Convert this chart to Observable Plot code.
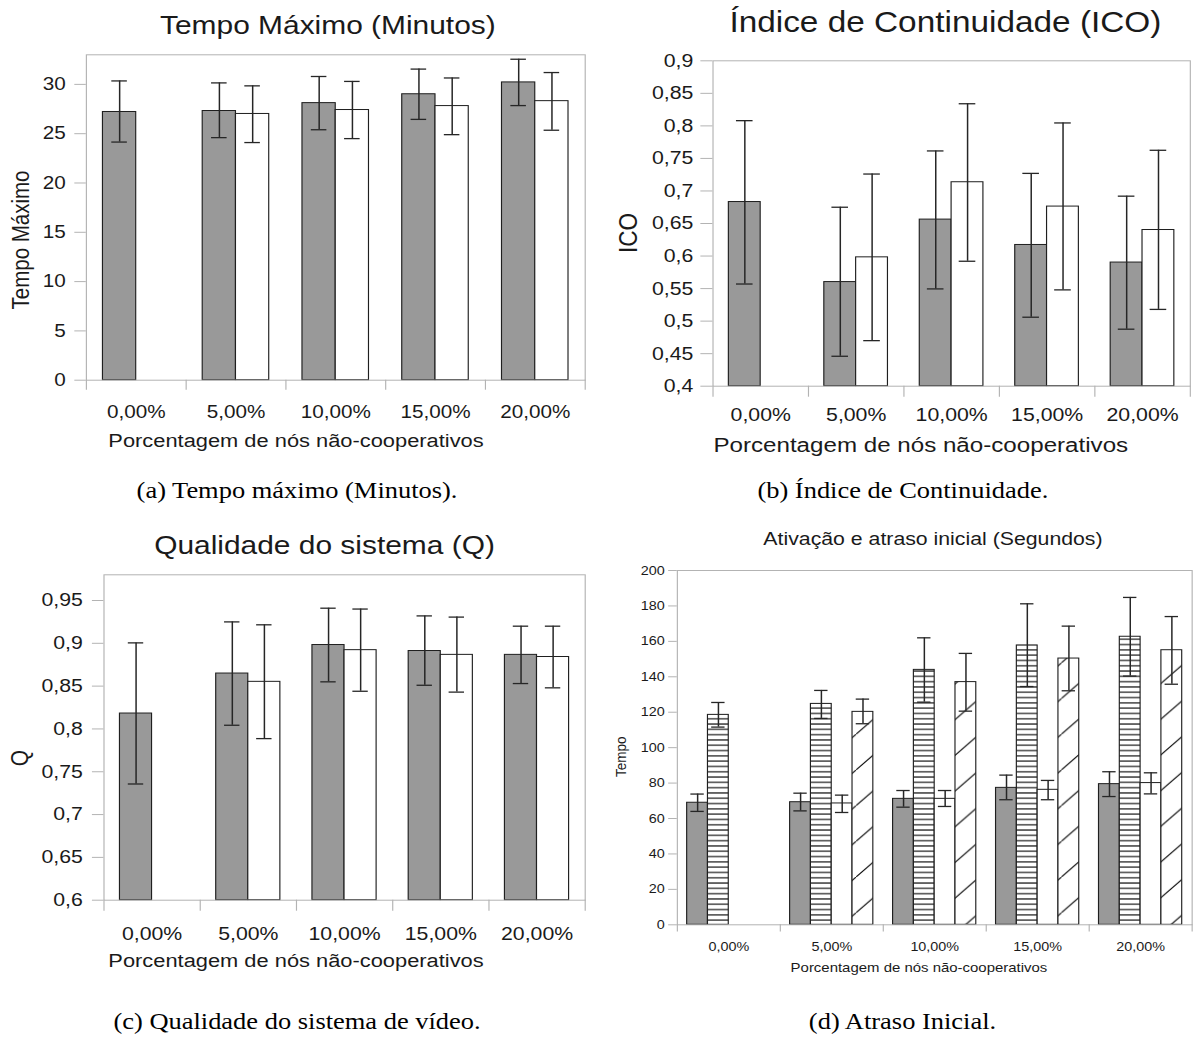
<!DOCTYPE html>
<html><head><meta charset="utf-8">
<script src="https://cdn.jsdelivr.net/npm/d3@7"></script>
<script src="https://cdn.jsdelivr.net/npm/@observablehq/plot@0.6"></script>
<style>
html,body{margin:0;padding:0;background:#fff;}
#page{position:relative;width:1037px;height:1037px;transform:scaleX(1.1504);transform-origin:0 0;}
.chart{position:absolute;}
.chart svg{overflow:visible;max-width:none !important;}
</style></head><body>
<svg width="0" height="0" style="position:absolute">
 <defs>
  <pattern id="hstripe" patternUnits="userSpaceOnUse" width="8" height="5.3">
    <rect width="8" height="5.3" fill="#fff"/>
    <line x1="0" x2="8" y1="2.65" y2="2.65" stroke="#000" stroke-width="1.1"/>
  </pattern>
  <pattern id="diag" patternUnits="userSpaceOnUse" width="35.7" height="35.7">
    <rect width="35.7" height="35.7" fill="#fff"/>
    <line x1="-1" y1="36.7" x2="36.7" y2="-1" stroke="#000" stroke-width="1"/>
  </pattern>
 </defs>
</svg>
<div id="page"></div>
<script>
// ---------- data ----------
const categories = ["0,00%", "5,00%", "10,00%", "15,00%", "20,00%"];

// (a) Tempo Máximo (Minutos)
const tempoTicks = [0, 5, 10, 15, 20, 25, 30];
const tempoMean1 = [27.2, 27.3, 28.1, 29.0, 30.2];
const tempoLo1   = [24.15, 24.6, 25.4, 26.45, 27.85];
const tempoHi1   = [30.35, 30.15, 30.8, 31.55, 32.55];
const tempoMean2 = [null, 27.0, 27.4, 27.8, 28.3];
const tempoLo2   = [null, 24.1, 24.5, 24.9, 25.35];
const tempoHi2   = [null, 29.85, 30.3, 30.65, 31.2];

// (b) Índice de Continuidade (ICO)
const icoTicks = [0.4, 0.45, 0.5, 0.55, 0.6, 0.65, 0.7, 0.75, 0.8, 0.85, 0.9];
const icoMean1 = [0.683, 0.560, 0.656, 0.617, 0.590];
const icoLo1   = [0.557, 0.446, 0.5495, 0.506, 0.4876];
const icoHi1   = [0.808, 0.675, 0.7615, 0.727, 0.692];
const icoMean2 = [null, 0.598, 0.7134, 0.676, 0.640];
const icoLo2   = [null, 0.470, 0.592, 0.548, 0.518];
const icoHi2   = [null, 0.726, 0.834, 0.8045, 0.7625];

// (c) Qualidade do sistema (Q)
const qTicks = [0.6, 0.65, 0.7, 0.75, 0.8, 0.85, 0.9, 0.95];
const qMean1 = [0.818, 0.8647, 0.898, 0.891, 0.8865];
const qLo1   = [0.7357, 0.8043, 0.855, 0.851, 0.853];
const qHi1   = [0.9005, 0.925, 0.941, 0.932, 0.920];
const qMean2 = [null, 0.855, 0.892, 0.8865, 0.884];
const qLo2   = [null, 0.7887, 0.844, 0.843, 0.848];
const qHi2   = [null, 0.9216, 0.940, 0.9306, 0.920];

// (d) Ativação e atraso inicial (Segundos)
const tempoDTicks = [0, 20, 40, 60, 80, 100, 120, 140, 160, 180, 200];
const ativMean1 = [68.9, 69.2, 71.1, 77.3, 79.4];
const ativLo1   = [64.0, 64.3, 66.4, 70.6, 72.4];
const ativHi1   = [73.8, 74.3, 75.8, 84.5, 86.4];
const atrasoMean1 = [118.5, 124.7, 143.9, 157.7, 162.6];
const atrasoLo1   = [111.6, 116.5, 125.7, 134.5, 140.4];
const atrasoHi1   = [125.5, 132.3, 162.0, 181.2, 184.8];
const ativMean2 = [null, 68.5, 71.1, 76.2, 80.0];
const ativLo2   = [null, 63.4, 66.8, 70.6, 73.9];
const ativHi2   = [null, 73.2, 75.8, 81.5, 85.8];
const atrasoMean2 = [null, 120.2, 137.0, 150.3, 155.0];
const atrasoLo2   = [null, 113.5, 120.6, 132.1, 135.8];
const atrasoHi2   = [null, 127.4, 153.2, 168.6, 174.0];

// ---------- drawing ----------
const page = document.getElementById("page");
const comma = v => String(v).replace(".", ",");

function makeChart(cfg) {
  const {series, left, top, width, height, margin, yDomain, yTicks, tickFormat,
         fontSize, tickSize, tickPadding, xTickSize, xPadding, capHalf, paddingOuter} = cfg;
  const inner = d3.scaleBand().domain(d3.range(series.length)).range([0, 1])
    .paddingInner(0).paddingOuter(paddingOuter);
  const rows = [];
  series.forEach((s, j) => s.mean.forEach((v, i) => {
    if (v != null) rows.push({i, j, cat: categories[i], v, lo: s.lo[i], hi: s.hi[i]});
  }));
  const x1 = d => d.i + inner(d.j);
  const x2 = d => d.i + inner(d.j) + inner.bandwidth();
  const xc = d => d.i + inner(d.j) + inner.bandwidth() / 2;
  const marks = [];
  series.forEach((s, j) => marks.push(Plot.rectY(rows.filter(d => d.j === j), {
    x1, x2, y1: () => yDomain[0], y2: "v", fill: s.fill, stroke: "#1f1f1f", strokeWidth: 1
  })));
  marks.push(Plot.frame({stroke: "#b3b3b3"}));
  const eb = {stroke: "#262626", strokeWidth: 1.3};
  marks.push(Plot.ruleX(rows, {x: xc, y1: "lo", y2: "hi", ...eb}));
  marks.push(Plot.ruleY(rows, {y: "lo", x1: d => xc(d) - capHalf, x2: d => xc(d) + capHalf, ...eb}));
  marks.push(Plot.ruleY(rows, {y: "hi", x1: d => xc(d) - capHalf, x2: d => xc(d) + capHalf, ...eb}));
  marks.push(Plot.axisY({ticks: yTicks, tickFormat, tickSize, tickPadding, stroke: "#b3b3b3", label: null}));
  marks.push(Plot.axisX({ticks: d3.range(categories.length + 1), tickFormat: () => "", tickSize: xTickSize, stroke: "#b3b3b3", label: null}));
  marks.push(Plot.axisX({ticks: categories.map((c, i) => i + 0.5), tickFormat: v => categories[Math.floor(v)], tickSize: 0, tickPadding: xPadding, label: null}));
  const svg = Plot.plot({
    width, height,
    marginLeft: margin[3], marginRight: margin[1], marginTop: margin[0], marginBottom: margin[2],
    x: {domain: [0, categories.length]},
    y: {domain: yDomain, nice: false},
    style: {fontFamily: "'Liberation Sans', Arial, sans-serif", fontSize: fontSize + "px", color: "#1a1a1a", background: "transparent", overflow: "visible", maxWidth: "none"},
    marks
  });
  svg.style.maxWidth = "none";
  svg.style.width = width + "px";
  svg.style.height = height + "px";
  const div = document.createElement("div");
  div.className = "chart";
  div.style.left = left + "px";
  div.style.top = top + "px";
  div.style.width = width + "px";
  div.style.height = height + "px";
  div.appendChild(svg);
  page.appendChild(div);
}

makeChart({
  series: [
    {mean: tempoMean1, lo: tempoLo1, hi: tempoHi1, fill: "#999999"},
    {mean: tempoMean2, lo: tempoLo2, hi: tempoHi2, fill: "#ffffff"}
  ],
  left: 0, top: 0, width: 520, height: 430, margin: [54.3, 11.8, 50.3, 74.6],
  yDomain: [0, 33], yTicks: tempoTicks, tickFormat: comma, fontSize: 18,
  tickSize: 10, tickPadding: 8, xTickSize: 10, xPadding: 25.5, capHalf: 0.078, paddingOuter: 0.5
});
makeChart({
  series: [
    {mean: icoMean1, lo: icoLo1, hi: icoHi1, fill: "#999999"},
    {mean: icoMean2, lo: icoLo2, hi: icoHi2, fill: "#ffffff"}
  ],
  left: 530, top: 0, width: 515, height: 430, margin: [60.3, 10.8, 44.3, 89.3],
  yDomain: [0.4, 0.9], yTicks: icoTicks, tickFormat: comma, fontSize: 18.5,
  tickSize: 10.5, tickPadding: 6.6, xTickSize: 11, xPadding: 21.6, capHalf: 0.087, paddingOuter: 0.5
});
makeChart({
  series: [
    {mean: qMean1, lo: qLo1, hi: qHi1, fill: "#999999"},
    {mean: qMean2, lo: qLo2, hi: qHi2, fill: "#ffffff"}
  ],
  left: 0, top: 520, width: 520, height: 430, margin: [54.3, 11.8, 50.3, 89.9],
  yDomain: [0.6, 0.98], yTicks: qTicks, tickFormat: comma, fontSize: 18.5,
  tickSize: 10, tickPadding: 8.4, xTickSize: 11, xPadding: 26.3, capHalf: 0.08, paddingOuter: 0.5
});
makeChart({
  series: [
    {mean: ativMean1, lo: ativLo1, hi: ativHi1, fill: "#999999"},
    {mean: atrasoMean1, lo: atrasoLo1, hi: atrasoHi1, fill: "url(#hstripe)"},
    {mean: ativMean2, lo: ativLo2, hi: ativHi2, fill: "#ffffff"},
    {mean: atrasoMean2, lo: atrasoLo2, hi: atrasoHi2, fill: "url(#diag)"}
  ],
  left: 530, top: 520, width: 515, height: 440, margin: [50, 9.2, 35.7, 58.3],
  yDomain: [0, 200], yTicks: tempoDTicks, tickFormat: comma, fontSize: 12.5,
  tickSize: 7.5, tickPadding: 3.4, xTickSize: 7.3, xPadding: 17.4, capHalf: 0.065, paddingOuter: 0.475
});

// ---------- titles, axis titles, captions ----------
const sans = "'Liberation Sans', Arial, sans-serif";
const serif = "'Liberation Serif', 'Times New Roman', serif";
const labels = [
  {t: "Tempo Máximo (Minutos)", x: 285, y: 34.3, s: 26},
  {t: "Tempo Máximo", x: 25, y: 240, s: 20.5, r: true},
  {t: "Porcentagem de nós não-cooperativos", x: 257.3, y: 446.5, s: 19},
  {t: "Índice de Continuidade (ICO)", x: 821.8, y: 32.3, s: 29},
  {t: "ICO", x: 554, y: 233, s: 22.5, r: true},
  {t: "Porcentagem de nós não-cooperativos", x: 800.4, y: 452, s: 21},
  {t: "Qualidade do sistema (Q)", x: 282.1, y: 554.3, s: 26},
  {t: "Q", x: 24, y: 758, s: 21, r: true},
  {t: "Porcentagem de nós não-cooperativos", x: 257.3, y: 966.5, s: 19},
  {t: "Ativação e atraso inicial (Segundos)", x: 811, y: 545, s: 18.5},
  {t: "Tempo", x: 544.5, y: 756.7, s: 13.5, r: true},
  {t: "Porcentagem de nós não-cooperativos", x: 798.8, y: 972.3, s: 13},
  {t: "(a) Tempo máximo (Minutos).", x: 258.2, y: 497.6, s: 23, f: serif, c: "#000"},
  {t: "(b) Índice de Continuidade.", x: 784.8, y: 497.6, s: 23, f: serif, c: "#000"},
  {t: "(c) Qualidade do sistema de vídeo.", x: 258.2, y: 1029, s: 23, f: serif, c: "#000"},
  {t: "(d) Atraso Inicial.", x: 784.5, y: 1029, s: 23, f: serif, c: "#000"}
];
const overlay = d3.select(page).append("svg")
  .attr("width", 1037).attr("height", 1037)
  .style("position", "absolute").style("left", 0).style("top", 0).style("overflow", "visible");
overlay.selectAll("text").data(labels).join("text")
  .attr("text-anchor", "middle")
  .attr("transform", d => d.r ? `translate(${d.x},${d.y}) rotate(-90)` : `translate(${d.x},${d.y})`)
  .attr("font-family", d => d.f || sans)
  .attr("font-size", d => d.s)
  .attr("fill", d => d.c || "#1a1a1a")
  .text(d => d.t);
</script>
</body></html>
